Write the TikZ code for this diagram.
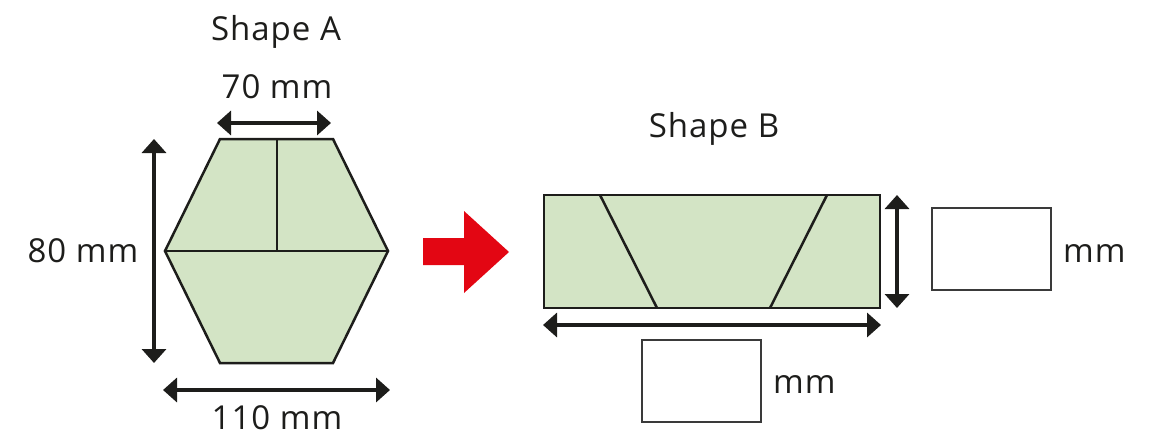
\documentclass[tikz,border=0pt]{standalone}
\usepackage{fontspec}
\setmainfont[LetterSpace=3]{Open Sans}
\usetikzlibrary{arrows.meta}
\definecolor{fillgreen}{HTML}{D3E4C5}
\definecolor{ink}{HTML}{1D1D1B}
\definecolor{arrowred}{HTML}{E30613}
\definecolor{boxline}{HTML}{3A3A3A}
\begin{document}
\begin{tikzpicture}[x=1pt,y=-1pt,
  outline/.style={draw=ink,line width=2.5pt,line join=miter},
  divider/.style={draw=ink,line width=2.5pt},
  dimarrow/.style={draw=ink,line width=4pt,{Triangle[length=14pt,width=24pt]}-{Triangle[length=14pt,width=24pt]}},
  label/.style={anchor=base,inner sep=0pt,text=ink,font=\fontsize{33}{40}\selectfont},
  answerbox/.style={draw=boxline,line width=2pt,minimum width=119pt,minimum height=82pt,inner sep=0pt,fill=white}]
\useasboundingbox (0,0) rectangle (1151,434);
% Shape A
\coordinate (aTL) at (220,139);
\coordinate (aTR) at (333,139);
\coordinate (aR) at (388,251);
\coordinate (aBR) at (333,363);
\coordinate (aBL) at (220,363);
\coordinate (aL) at (165,251);
\coordinate (aTM) at (277,139);
\coordinate (aC) at (277,251);
\fill[fillgreen] (aTL) -- (aTR) -- (aR) -- (aBR) -- (aBL) -- (aL) -- cycle;
\draw[divider] (aL) -- (aR);
\draw[divider] (aTM) -- (aC);
\draw[outline] (aTL) -- (aTR) -- (aR) -- (aBR) -- (aBL) -- (aL) -- cycle;
\node[label] (titleA) at (276,40) {Shape A};
\node[label] (lab70) at (277,98) {70 mm};
\node[label] (lab80) at (83,262) {80 mm};
\node[label] (lab110) at (277,429) {110 mm};
\coordinate (d70a) at (217,123);
\coordinate (d70b) at (331,123);
\coordinate (d80a) at (154,139);
\coordinate (d80b) at (154,363);
\coordinate (d110a) at (163,390);
\coordinate (d110b) at (390,390);
\draw[dimarrow] (d70a) -- (d70b);
\draw[dimarrow] (d80a) -- (d80b);
\draw[dimarrow] (d110a) -- (d110b);
% red arrow
\fill[arrowred] (423,238) -- (464,238) -- (464,211) -- (509,252) -- (464,293) -- (464,265) -- (423,265) -- cycle;
% Shape B
\coordinate (bTL) at (544,195);
\coordinate (bBR) at (880,308);
\fill[fillgreen] (bTL) rectangle (bBR);
\coordinate (s1t) at (600,195);
\coordinate (s1b) at (657,308);
\coordinate (s2t) at (827,195);
\coordinate (s2b) at (770,308);
\draw[divider] (s1t) -- (s1b);
\draw[divider] (s2t) -- (s2b);
\draw[outline] (bTL) rectangle (bBR);
\node[label] (titleB) at (714,137) {Shape B};
\coordinate (dva) at (897,195);
\coordinate (dvb) at (897,308);
\coordinate (dha) at (543,325);
\coordinate (dhb) at (881,325);
\draw[dimarrow] (dva) -- (dvb);
\draw[dimarrow] (dha) -- (dhb);
\node[answerbox] (box1) at (991.5,249) {};
\node[label,anchor=base west] (mm1) at (1063,262) {mm};
\node[answerbox] (box2) at (701,381) {};
\node[label,anchor=base west] (mm2) at (773,393) {mm};
\end{tikzpicture}
\end{document}
